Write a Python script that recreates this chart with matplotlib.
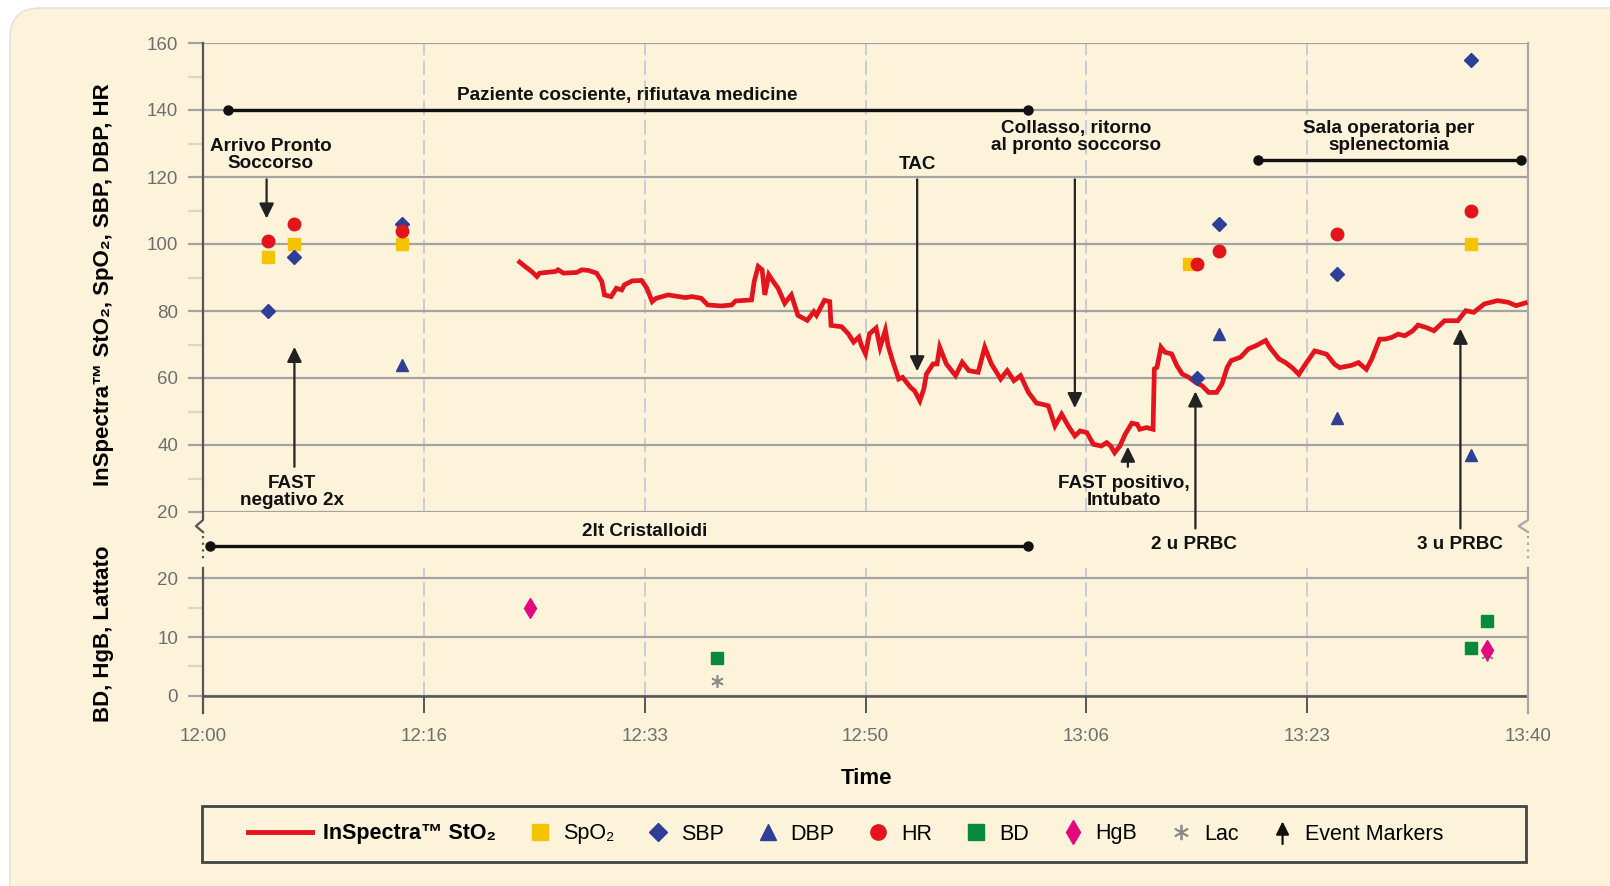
import numpy as np
import matplotlib
matplotlib.use('Agg')
import matplotlib.pyplot as plt
from matplotlib.lines import Line2D
from matplotlib.patches import FancyBboxPatch, Rectangle, FancyArrowPatch
from matplotlib.legend_handler import HandlerBase

plt.rcParams['font.family'] = ['Liberation Sans', 'DejaVu Sans']
NARROW = ['Liberation Sans Narrow', 'Liberation Sans', 'DejaVu Sans']

# all times in minutes after 12:00
xtick_labels = ['12:00', '12:16', '12:33', '12:50', '13:06', '13:23', '13:40']

sto2_t = [23.9, 24.3, 24.8, 25.2, 25.4, 26.6, 26.8, 27.2, 28.2, 28.6, 29.1, 29.7,
          30.1, 30.3, 30.8, 31.2, 31.6, 31.8, 32.4, 33.1, 33.5, 33.9, 34.2, 35.1,
          36.4, 36.9, 37.6, 38.1, 39.1, 39.9, 40.2, 41.4, 41.6, 41.9, 42.2, 42.4,
          42.7, 43.0, 43.4, 43.9, 44.4, 44.9, 45.6, 46.1, 46.3, 46.9, 47.3, 47.4,
          48.2, 48.7, 49.1, 49.5, 49.7, 50.0, 50.3, 50.8, 51.1, 51.5, 51.7, 52.0,
          52.5, 52.8, 53.4, 53.7, 54.1, 54.4, 54.6, 55.1, 55.4, 55.6, 56.1, 56.8,
          57.3, 57.8, 58.5, 59.0, 59.5, 60.2, 60.7, 61.2, 61.7, 62.3, 62.9, 63.3,
          63.8, 64.3, 64.8, 65.3, 65.8, 66.2, 66.7, 67.2, 67.8, 68.2, 68.5, 68.8,
          69.2, 69.6, 70.1, 70.5, 70.7, 71.2, 71.7, 71.8, 72.0, 72.3, 72.6, 73.1,
          73.5, 73.9, 74.4, 74.9, 75.4, 75.9, 76.5, 76.9, 77.3, 77.6, 78.3, 78.9,
          79.5, 80.2, 80.5, 81.2, 81.7, 82.2, 82.7, 83.2, 83.9, 84.8, 85.4, 85.8,
          86.7, 87.2, 87.8, 88.2, 88.8, 89.2, 89.7, 90.2, 90.7, 91.3, 91.7, 92.3,
          92.9, 93.7, 94.7, 95.3, 95.9, 96.7, 97.7, 98.5, 99.1, 99.8]
sto2_v = [94.6, 93.3, 91.8, 90.3, 91.3, 91.8, 92.3, 91.3, 91.5, 92.3, 92.1, 91.3,
          88.8, 84.8, 84.3, 86.8, 86.3, 87.8, 89.0, 89.1, 86.8, 82.8, 83.8, 84.8,
          84.0, 84.3, 83.8, 81.8, 81.5, 81.8, 83.0, 83.3, 88.8, 93.3, 92.3, 84.8,
          90.8, 89.0, 86.8, 82.3, 84.8, 78.7, 77.2, 79.8, 78.7, 83.2, 82.8, 75.7,
          75.3, 73.2, 70.7, 72.2, 69.7, 67.2, 73.2, 74.9, 69.2, 74.3, 69.7, 65.7,
          59.7, 60.2, 57.2, 56.2, 53.2, 56.7, 61.2, 64.2, 64.2, 69.2, 64.2, 60.7,
          64.7, 62.2, 61.7, 69.2, 64.2, 59.7, 62.2, 59.2, 60.7, 55.7, 52.5, 52.2,
          51.7, 45.7, 49.2, 45.7, 42.7, 44.2, 43.7, 40.2, 39.7, 40.7, 39.7, 37.7,
          39.7, 43.2, 46.5, 46.2, 44.7, 45.2, 44.7, 62.7, 63.2, 69.2, 67.7, 67.2,
          63.7, 61.2, 60.2, 58.7, 57.7, 55.7, 55.7, 58.2, 63.2, 65.2, 66.2, 68.7,
          69.7, 71.2, 69.2, 65.7, 64.6, 63.1, 61.1, 64.1, 68.1, 67.1, 64.1, 63.1,
          63.8, 64.6, 62.6, 65.6, 71.6, 71.6, 72.1, 73.1, 72.6, 74.1, 75.8, 75.1,
          74.1, 77.1, 77.1, 80.1, 79.6, 82.1, 83.1, 82.6, 81.6, 82.4]

spo2_t = [4.9, 6.9, 15.0, 74.4, 95.7]
spo2_v = [96, 100, 100, 94, 100]
sbp_t = [4.9, 6.9, 15.0, 75.0, 76.7, 85.6, 95.7]
sbp_v = [80, 96, 106, 60, 106, 91, 155]
dbp_t = [15.0, 76.7, 85.6, 95.7]
dbp_v = [64, 73, 48, 37]
hr_t = [4.9, 6.9, 15.0, 75.0, 76.7, 85.6, 95.7]
hr_v = [101, 106, 104, 94, 98, 103, 110]

bd_t = [38.8, 95.7, 96.9]
bd_v = [6.4, 8.2, 12.7]
hgb_t = [24.7, 96.9]
hgb_v = [15.0, 7.8]
lac_t = [38.8, 96.9]
lac_v = [2.6, 7.0]

RED = '#e3141b'
YEL = '#f5c400'
BLUE = '#2f3f97'
GREEN = '#078a3c'
MAG = '#e4087f'
LACC = '#8c8c8c'
CREAM = '#fdf3db'
GRID = '#a3a3a3'
DASH = '#c6cad4'
TICKC = '#6e6e6e'

W, H = 1610, 886


def fax(l, t, r, b):
    return [l / W, 1 - b / H, (r - l) / W, (b - t) / H]


fig = plt.figure(figsize=(W / 100, H / 100), dpi=100)
fig.patch.set_facecolor('white')
card = FancyBboxPatch((0.1, -0.5), 17, H / 100 - 0.08 + 0.5,
                      boxstyle='round,pad=0,rounding_size=0.3',
                      transform=fig.dpi_scale_trans, fc=CREAM, ec='#dedede', lw=1, zorder=-10)
fig.patches.append(card)

xpos = np.linspace(0, 100, len(xtick_labels))

# ---------- top panel ----------
ax = fig.add_axes(fax(203, 43, 1528, 512))
ax.set_facecolor('none')
ax.set_xlim(0, 100)
ax.set_ylim(20, 160)
for s in ax.spines.values():
    s.set_visible(False)
ax.set_axisbelow(True)
ax.set_yticks(range(20, 161, 20))
ax.set_yticks(range(30, 160, 20), minor=True)
ax.yaxis.grid(True, color=GRID, lw=1.6)
ax.tick_params(axis='y', which='major', length=11, width=1.6, color=GRID,
               labelcolor=TICKC, labelsize=13.5, pad=7)
ax.tick_params(axis='y', which='minor', length=11, width=1.6, color='#d9d6cc')
for t in ax.get_yticklabels():
    t.set_family(NARROW)
ax.set_xticks(xpos)
ax.tick_params(axis='x', length=0, labelbottom=False)
ax.vlines(xpos[1:-1], 20, 160, colors=DASH, lw=1.3, linestyles=(0, (8, 3)), zorder=0.5)

# spines with break marks
ax.plot([0, 0, -0.53, 0], [160, 17.6, 15.8, 14.0], color='#555555', lw=1.6, clip_on=False)
ax.plot([0, 0], [12.8, 5.5], color='#555555', lw=1.6, ls=(0, (1, 2)), clip_on=False)
ax.plot([100, 100, 99.3, 100], [160, 17.6, 15.8, 14.0], color='#a8a8a8', lw=1.6, clip_on=False)
ax.plot([100, 100], [12.8, 5.5], color='#a8a8a8', lw=1.6, ls=(0, (1, 2)), clip_on=False)

ax.plot(sto2_t, sto2_v, color=RED, lw=3.4, zorder=3, solid_joinstyle='miter')
ax.plot(spo2_t, spo2_v, ls='none', marker='s', ms=9, color=YEL, zorder=4)
ax.plot(sbp_t, sbp_v, ls='none', marker='D', ms=7.5, color=BLUE, zorder=5)
ax.plot(dbp_t, dbp_v, ls='none', marker='^', ms=9, color=BLUE, zorder=5)
ax.plot(hr_t, hr_v, ls='none', marker='o', ms=9, color=RED, zorder=5)

ANN = dict(fontsize=13.6, fontweight='bold', color='#111111', ha='center', va='center',
           linespacing=1.0, clip_on=False)


def arrow(x, y0, y1):
    ax.annotate('', xy=(x, y1), xytext=(x, y0), annotation_clip=False,
                arrowprops=dict(arrowstyle='-|>,head_length=0.45,head_width=0.22',
                                mutation_scale=20, color='#222222', lw=1.6,
                                shrinkA=0, shrinkB=0))


def bar(x0, x1, y):
    ax.plot([x0, x1], [y, y], color='#111111', lw=2.4, marker='o', ms=6.5,
            clip_on=False, solid_capstyle='butt', zorder=4)


bar(1.9, 62.3, 140)
ax.text(32.0, 144.4, 'Paziente cosciente, rifiutava medicine', **ANN)
ax.text(5.1, 126.5, 'Arrivo Pronto\nSoccorso', **ANN)
arrow(4.8, 119.3, 107.6)
ax.text(6.7, 26.1, 'FAST\nnegativo 2x', **ANN)
arrow(6.9, 33.5, 69.3)
ax.text(53.9, 123.8, 'TAC', **ANN)
arrow(53.9, 119.3, 62.0)
ax.text(65.9, 131.8, 'Collasso, ritorno\nal pronto soccorso', **ANN)
arrow(65.8, 119.3, 51.0)
ax.text(69.5, 26.1, 'FAST positivo,\nIntubato', **ANN)
arrow(69.8, 33.5, 39.5)
ax.text(89.5, 131.8, 'Sala operatoria per\nsplenectomia', **ANN)
bar(79.6, 99.5, 125.1)
ax.text(74.8, 10.2, '2 u PRBC', **ANN)
arrow(74.9, 15.1, 56.0)
ax.text(94.9, 10.2, '3 u PRBC', **ANN)
arrow(94.9, 15.1, 74.7)
ax.text(33.3, 14.2, '2lt Cristalloidi', **ANN)
bar(0.5, 62.3, 9.9)

# ---------- bottom panel ----------
bx = fig.add_axes(fax(203, 568, 1528, 712.5))
bx.set_facecolor('none')
bx.set_xlim(0, 100)
bx.set_ylim(-2.8, 21.7)
bx.spines['top'].set_visible(False)
bx.spines['bottom'].set_visible(False)
bx.spines['left'].set_color('#555555')
bx.spines['left'].set_linewidth(1.6)
bx.spines['right'].set_color('#a8a8a8')
bx.spines['right'].set_linewidth(1.6)
bx.set_axisbelow(True)
bx.set_yticks([0, 10, 20])
bx.set_yticks([5, 15], minor=True)
bx.yaxis.grid(True, color=GRID, lw=1.6)
bx.tick_params(axis='y', which='major', length=11, width=1.6, color=GRID,
               labelcolor=TICKC, labelsize=13.5, pad=7)
bx.tick_params(axis='y', which='minor', length=11, width=1.6, color='#d9d6cc')
bx.axhline(0, color='#555555', lw=1.8, zorder=1)
bx.vlines(xpos[1:-1], 0, 21.7, colors=DASH, lw=1.3, linestyles=(0, (8, 3)), zorder=0.5)
bx.vlines(xpos[1:-1], -2.8, 0, colors='#555555', lw=1.4, zorder=1)
bx.set_xticks(xpos, xtick_labels)
bx.tick_params(axis='x', length=0, pad=11, labelsize=13.5, labelcolor=TICKC)
for t in bx.get_xticklabels() + bx.get_yticklabels():
    t.set_family(NARROW)

bx.plot(bd_t, bd_v, ls='none', marker='s', ms=8.5, color=GREEN, zorder=4)
bx.plot(lac_t, lac_v, ls='none', marker=(6, 2, 0), ms=9, mew=1.2, color=LACC, zorder=4)
bx.plot(hgb_t, hgb_v, ls='none', marker='d', ms=10, color=MAG, zorder=5)

# ---------- labels ----------
fig.text(103 / W, 1 - 285 / H, 'InSpectra™ StO₂, SpO₂, SBP, DBP, HR', rotation=90,
         ha='center', va='center', fontsize=16, fontweight='bold')
fig.text(103 / W, 1 - 634 / H, 'BD, HgB, Lattato', rotation=90,
         ha='center', va='center', fontsize=16, fontweight='bold')
fig.text(866 / W, 1 - 778 / H, 'Time', ha='center', va='center',
         fontsize=16, fontweight='bold', family=NARROW)

# ---------- legend ----------


class LongLineHandler(HandlerBase):
    def create_artists(self, legend, orig_handle, xdescent, ydescent, width, height,
                       fontsize, trans):
        y = height / 2 - ydescent
        ln = Line2D([-xdescent - 1.7 * width, -xdescent + width], [y, y],
                    color=orig_handle.get_color(), lw=orig_handle.get_linewidth(),
                    transform=trans)
        return [ln]


class ArrowHandler(HandlerBase):
    def create_artists(self, legend, orig_handle, xdescent, ydescent, width, height,
                       fontsize, trans):
        a = FancyArrowPatch((width / 2 - xdescent, -ydescent - 0.3 * height),
                            (width / 2 - xdescent, height * 1.2 - ydescent),
                            arrowstyle='-|>,head_length=0.5,head_width=0.25',
                            mutation_scale=fontsize, color='#111111', lw=1.6,
                            shrinkA=0, shrinkB=0, transform=trans)
        return [a]


h_sto2 = Line2D([], [], color=RED, lw=3.5)
h_arrow = Line2D([], [])
handles = [h_sto2,
           Line2D([], [], ls='none', marker='s', ms=11, color=YEL),
           Line2D([], [], ls='none', marker='D', ms=9.5, color=BLUE),
           Line2D([], [], ls='none', marker='^', ms=11, color=BLUE),
           Line2D([], [], ls='none', marker='o', ms=11, color=RED),
           Line2D([], [], ls='none', marker='s', ms=11, color=GREEN),
           Line2D([], [], ls='none', marker='d', ms=12, color=MAG),
           Line2D([], [], ls='none', marker=(6, 2, 0), ms=11, mew=1.3, color=LACC),
           h_arrow]
labels = ['InSpectra™ StO₂', 'SpO₂', 'SBP', 'DBP', 'HR', 'BD', 'HgB', 'Lac', 'Event Markers']

fig.patches.append(Rectangle((202 / W, 1 - 862 / H), 1324 / W, 56 / H,
                             transform=fig.transFigure, fc='none', ec='#444444', lw=2))
leg = fig.legend(handles, labels, loc='center', bbox_to_anchor=(866 / W, 1 - 834 / H),
                 ncol=9, frameon=False, handlelength=1.1, handletextpad=0.5,
                 columnspacing=1.5, prop={'family': NARROW, 'size': 15.5},
                 handler_map={h_sto2: LongLineHandler(), h_arrow: ArrowHandler()})
leg.get_texts()[0].set_fontweight('bold')

fig.savefig('out.png', dpi=100, facecolor=fig.get_facecolor())
